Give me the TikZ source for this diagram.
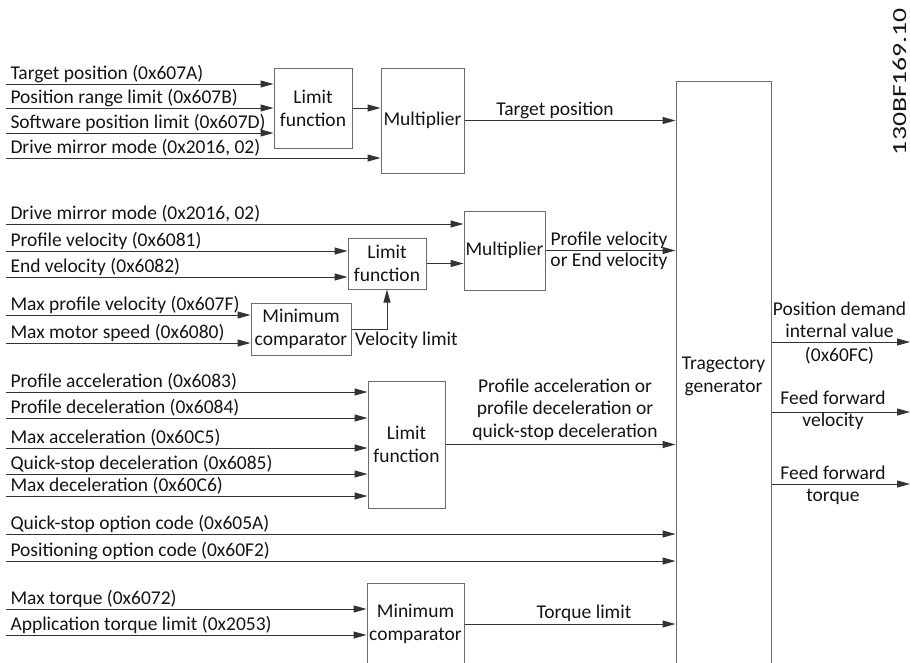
\documentclass[tikz,border=0pt]{standalone}
\usepackage{fontspec}
\setmainfont{Carlito}
\usetikzlibrary{arrows.meta,calc}
\newcommand\diafont{\fontsize{19.5}{23}\selectfont}
\begin{document}
\begin{tikzpicture}[x=1pt,y=-1pt,
  box/.style={draw=black!58, line width=1pt, inner sep=0pt, align=center,
    font=\diafont, text=black!92},
  sig/.style={draw=black!80, line width=1pt,
    -{Triangle[length=13pt,width=7pt]}},
  inlbl/.style={pos=0, anchor=base west, xshift=4pt, yshift=4.5pt,
    inner sep=0pt, font=\diafont, text=black!92},
  txt/.style={inner sep=0pt, align=center, font=\diafont, text=black!92}]
\useasboundingbox (0,0) rectangle (910,662);
\clip (0,0) rectangle (910,662);

% processing blocks
\node[box, minimum width=78, minimum height=80]  (lf1)  at (313,108)   {Limit\\function};
\node[box, minimum width=83, minimum height=105] (mul1) at (422.5,120.5) {Multiplier};
\node[box, minimum width=95, minimum height=590] (traj) at (723.5,376) {Tragectory\\generator};
\node[box, minimum width=81, minimum height=79]  (mul2) at (504.5,250.5) {Multiplier};
\node[box, minimum width=78, minimum height=51]  (lf2)  at (387,263.5) {Limit\\function};
\node[box, minimum width=100, minimum height=52] (mc1)  at (301,329)   {Minimum\\comparator};
\node[box, minimum width=77, minimum height=127] (lf3)  at (406.5,444.5) {Limit\\function};
\node[box, minimum width=97, minimum height=82]  (mc2)  at (415.5,624) {Minimum\\comparator};

% free ends of the input signals
\coordinate (a1) at (6,84);
\coordinate (a2) at (6,108);
\coordinate (a3) at (6,133);
\coordinate (a4) at (6,158);
\coordinate (b1) at (6,224);
\coordinate (b2) at (6,251);
\coordinate (b3) at (6,277);
\coordinate (c1) at (6,315);
\coordinate (c2) at (6,343);
\coordinate (d1) at (6,392);
\coordinate (d2) at (6,418);
\coordinate (d3) at (6,448);
\coordinate (d4) at (6,474);
\coordinate (d5) at (6,496);
\coordinate (e1) at (6,534);
\coordinate (e2) at (6,561);
\coordinate (f1) at (6,609);
\coordinate (f2) at (6,635);
% free ends of the outputs
\coordinate (o1) at (910,342);
\coordinate (o2) at (910,412);
\coordinate (o3) at (910,484);

% position path
\draw[sig] (a1) -- (a1 -| lf1.west) node[inlbl] {Target position (0x607A)};
\draw[sig] (a2) -- (a2 -| lf1.west) node[inlbl] {Position range limit (0x607B)};
\draw[sig] (a3) -- (a3 -| lf1.west) node[inlbl] {Software position limit (0x607D)};
\draw[sig] (a4) -- (a4 -| mul1.west) node[inlbl] {Drive mirror mode (0x2016, 02)};
\draw[sig] (lf1.east) -- (lf1.east -| mul1.west);
\draw[sig] (mul1.east) -- (mul1.east -| traj.west);
\node[txt, anchor=base] (ltp) at (555,115) {Target position};

% velocity path
\draw[sig] (b1) -- (b1 -| mul2.west) node[inlbl] {Drive mirror mode (0x2016, 02)};
\draw[sig] (b2) -- (b2 -| lf2.west) node[inlbl] {Profile velocity (0x6081)};
\draw[sig] (b3) -- (b3 -| lf2.west) node[inlbl] {End velocity (0x6082)};
\draw[sig] (lf2.east) -- (lf2.east -| mul2.west);
\draw[sig] (mul2.east) -- (mul2.east -| traj.west);
\node[txt, anchor=base] (lpv) at (609,245) {Profile velocity};
\node[txt, anchor=base] (lev) at (609,266.5) {or End velocity};
\draw[sig] (c1) -- (c1 -| mc1.west) node[inlbl] {Max profile velocity (0x607F)};
\draw[sig] (c2) -- (c2 -| mc1.west) node[inlbl] {Max motor speed (0x6080)};
\draw[sig] (mc1.east) -| (lf2.south);
\node[txt, anchor=base west] (lvl) at (355,345) {Velocity limit};

% acceleration path
\draw[sig] (d1) -- (d1 -| lf3.west) node[inlbl] {Profile acceleration (0x6083)};
\draw[sig] (d2) -- (d2 -| lf3.west) node[inlbl] {Profile deceleration (0x6084)};
\draw[sig] (d3) -- (d3 -| lf3.west) node[inlbl] {Max acceleration (0x60C5)};
\draw[sig] (d4) -- (d4 -| lf3.west) node[inlbl] {Quick-stop deceleration (0x6085)};
\draw[sig] (d5) -- (d5 -| lf3.west) node[inlbl] {Max deceleration (0x60C6)};
\draw[sig] (lf3.east) -- (lf3.east -| traj.west);
\node[txt, anchor=base] (la1) at (565,392) {Profile acceleration or};
\node[txt, anchor=base] (la2) at (565,414.5) {profile deceleration or};
\node[txt, anchor=base] (la3) at (565,437) {quick-stop deceleration};

% option codes
\draw[sig] (e1) -- (e1 -| traj.west) node[inlbl] {Quick-stop option code (0x605A)};
\draw[sig] (e2) -- (e2 -| traj.west) node[inlbl] {Positioning option code (0x60F2)};

% torque path
\draw[sig] (f1) -- (f1 -| mc2.west) node[inlbl] {Max torque (0x6072)};
\draw[sig] (f2) -- (f2 -| mc2.west) node[inlbl] {Application torque limit (0x2053)};
\draw[sig] (mc2.east) -- (mc2.east -| traj.west);
\node[txt, anchor=base] (ltl) at (584,618) {Torque limit};

% trajectory generator outputs
\draw[sig] (o1 -| traj.east) -- (o1);
\draw[sig] (o2 -| traj.east) -- (o2);
\draw[sig] (o3 -| traj.east) -- (o3);
\node[txt, anchor=base] (lp1) at (839.5,315) {Position demand};
\node[txt, anchor=base] (lp2) at (839.5,337.5) {internal value};
\node[txt, anchor=base] (lp3) at (839.5,361) {(0x60FC)};
\node[txt, anchor=base] (lv1) at (833,404) {Feed forward};
\node[txt, anchor=base] (lv2) at (833,426.5) {velocity};
\node[txt, anchor=base] (lt1) at (833,479) {Feed forward};
\node[txt, anchor=base] (lt2) at (833,501.5) {torque};

% drawing number
\node[txt, rotate=90] (dwg) at (899.5,81.5)
  {\resizebox{147pt}{13.5pt}{130BF169.10}};
\end{tikzpicture}
\end{document}
